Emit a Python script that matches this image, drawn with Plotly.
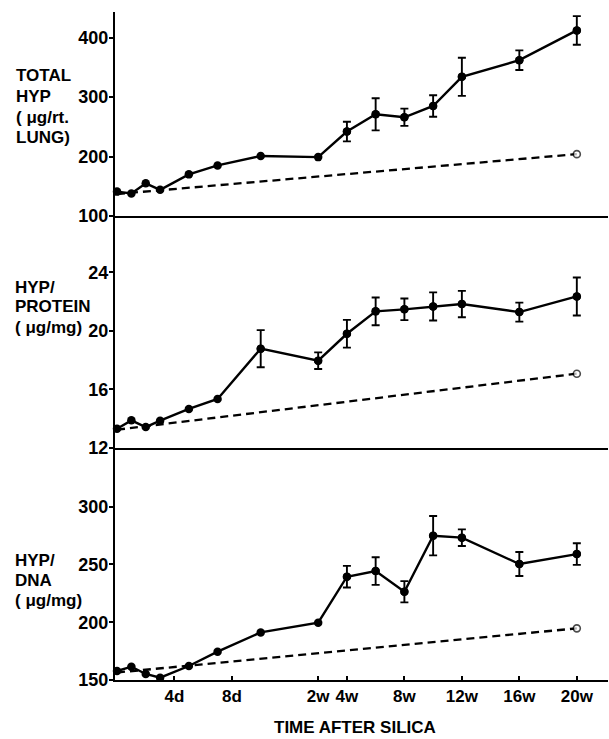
import plotly.graph_objects as go
from plotly.subplots import make_subplots

# ---------------- data ----------------
TIMES = ["0d", "1d", "2d", "3d", "5d", "7d", "10d",
         "2w", "4w", "6w", "8w", "10w", "12w", "16w", "20w"]
TICK_LABELS = ["4d", "8d", "2w", "4w", "8w", "12w", "16w", "20w"]

TOTAL_HYP = [141, 138, 155, 144, 170, 185, 201, 199, 242, 271, 266, 285, 334, 362, 412]
TOTAL_HYP_SE = [None, None, None, None, None, None, None, None,
                16.5, 27, 14.5, 18, 32, 16.5, 24]

HYP_PROTEIN = [13.32, 13.89, 13.43, 13.87, 14.67, 15.35, 18.79, 17.97,
               19.81, 21.34, 21.48, 21.68, 21.84, 21.29, 22.36]
HYP_PROTEIN_SE = [None, None, None, None, None, None, 1.27, 0.57,
                  0.95, 0.95, 0.74, 0.96, 0.9, 0.65, 1.3]

HYP_DNA = [157.8, 161.5, 155.2, 152, 162.1, 174.5, 191.2, 199.6,
           239.4, 244.3, 226.4, 274.9, 273.2, 250.4, 259]
HYP_DNA_SE = [None, None, None, None, None, None, None, None,
              9.4, 12, 9.2, 17, 7.2, 10.4, 9.4]

CTRL_TIMES = ["0d", "20w"]
CTRL_TOTAL = [137, 204]
CTRL_PROTEIN = [13.25, 17.08]
CTRL_DNA = [156.5, 194.7]

Y_TICKS = [[100, 200, 300, 400], [12, 16, 20, 24], [150, 200, 250, 300]]
Y_RANGES = [[100, 443], [12, 27.86], [150, 350.8]]
X_RANGE = [-0.14, 34.17]


def axis_pos(label):
    """Broken time axis: one unit per day up to 2 weeks, then one unit per week."""
    n = int(label[:-1])
    return n if label.endswith("d") else 12 + n


X = [axis_pos(t) for t in TIMES]
CX = [axis_pos(t) for t in CTRL_TIMES]
TICK_POS = [axis_pos(t) for t in TICK_LABELS]

W, H = 609, 739
L, R, T, B = 115, 1, 12, 59
PW, PH = W - L - R, H - T - B

fig = make_subplots(rows=3, cols=1, shared_xaxes=True, vertical_spacing=0,
                    row_heights=[204, 232, 232])

series = [(TOTAL_HYP, TOTAL_HYP_SE, CTRL_TOTAL),
          (HYP_PROTEIN, HYP_PROTEIN_SE, CTRL_PROTEIN),
          (HYP_DNA, HYP_DNA_SE, CTRL_DNA)]

for i, (vals, se, ctrl) in enumerate(series, start=1):
    # control (dashed) line with open circle at the end
    fig.add_trace(go.Scatter(
        x=CX, y=ctrl, mode="lines+markers",
        line=dict(color="black", width=2.3, dash="8px,5px"),
        marker=dict(size=[0, 7], color="white", line=dict(color="black", width=1.6)),
        cliponaxis=False, showlegend=False), row=i, col=1)
    # error bars (only where given)
    ex = [x for x, s in zip(X, se) if s is not None]
    ey = [v for v, s in zip(vals, se) if s is not None]
    es = [s for s in se if s is not None]
    fig.add_trace(go.Scatter(
        x=ex, y=ey, mode="markers",
        marker=dict(size=8, color="black"),
        error_y=dict(type="data", array=es, color="black", thickness=1.9, width=4),
        cliponaxis=False, showlegend=False), row=i, col=1)
    # silica series
    fig.add_trace(go.Scatter(
        x=X, y=vals, mode="lines+markers",
        line=dict(color="black", width=2.4),
        marker=dict(size=8.5, color="black"),
        cliponaxis=False, showlegend=False), row=i, col=1)

tick_font = dict(family="Liberation Sans, Arial, sans-serif", size=18, color="black", weight="bold")

for i in range(1, 4):
    fig.update_yaxes(row=i, col=1, range=Y_RANGES[i - 1], tickvals=Y_TICKS[i - 1],
                     showline=True, linewidth=2, linecolor="black",
                     ticks="outside", ticklen=4, tickwidth=2, tickcolor="black",
                     showgrid=False, zeroline=False, tickfont=tick_font,
                     ticklabelstandoff=-3)
    fig.update_xaxes(row=i, col=1, range=X_RANGE, showline=True, linewidth=2,
                     linecolor="black", showgrid=False, zeroline=False)

fig.update_xaxes(row=1, col=1, ticks="", showticklabels=False)
fig.update_xaxes(row=2, col=1, ticks="", showticklabels=False)
fig.update_xaxes(row=3, col=1, tickvals=TICK_POS, ticktext=TICK_LABELS,
                 ticks="inside", ticklen=4, tickwidth=2, tickcolor="black",
                 tickfont=dict(family="Liberation Sans, Arial, sans-serif", size=17,
                               color="black", weight="bold"))


def px_x(px):
    return (px - L) / PW


def px_y(py):
    return (H - B - py) / PH


label_font = dict(family="Liberation Sans, Arial, sans-serif", size=17, color="black", weight="bold")
LABELS = [
    (14, [(75.5, "TOTAL"), (96, "HYP"), (117, "( μg/rt."), (137, "LUNG)")]),
    (13, [(287, "HYP/"), (307, "PROTEIN"), (327, "( μg/mg)")]),
    (13, [(560, "HYP/"), (580, "DNA"), (600, "( μg/mg)")]),
]
for lx, lines in LABELS:
    for ly, txt in lines:
        fig.add_annotation(xref="paper", yref="paper", x=px_x(lx), y=px_y(ly),
                           xanchor="left", yanchor="middle", text=txt,
                           showarrow=False, font=label_font)

fig.add_annotation(xref="paper", yref="paper", x=px_x(355), y=px_y(727),
                   xanchor="center", yanchor="middle", text="TIME AFTER SILICA",
                   showarrow=False, font=label_font)

fig.update_layout(width=W, height=H, margin=dict(l=L, r=R, t=T, b=B),
                  plot_bgcolor="white", paper_bgcolor="white", showlegend=False)

fig.write_html("out.html")
